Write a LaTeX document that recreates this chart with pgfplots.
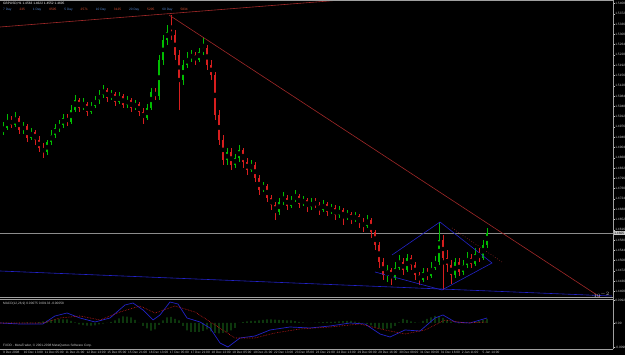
\documentclass[border=0pt]{standalone}
\usepackage{pgfplots}
\pgfplotsset{compat=1.18}
\usepackage{pgfplotstable}
\usepackage{fontspec}
\setmainfont{Liberation Sans}
\definecolor{up}{RGB}{0,190,0}
\definecolor{dn}{RGB}{215,30,30}
\definecolor{trend}{RGB}{160,40,40}
\definecolor{tblue}{RGB}{35,35,200}
\definecolor{lbl}{RGB}{200,200,200}
\definecolor{histg}{RGB}{20,85,20}
\definecolor{dayc}{RGB}{80,130,200}
\definecolor{numc}{RGB}{220,80,50}

% bullish candles (close >= open)
\pgfplotstableread{
x o h l c
0 1.4958 1.4993 1.4948 1.4972
1 1.4972 1.5021 1.4965 1.5000
3 1.4983 1.5028 1.4976 1.5007
5 1.4965 1.4993 1.4951 1.4979
7 1.4937 1.4972 1.4930 1.4958
11 1.4888 1.4930 1.4878 1.4923
12 1.4923 1.4965 1.4913 1.4948
13 1.4948 1.4986 1.4937 1.4972
14 1.4972 1.5000 1.4958 1.4983
15 1.4983 1.5021 1.4972 1.5007
17 1.4993 1.5053 1.4986 1.5035
18 1.5035 1.5088 1.5028 1.5070
20 1.5042 1.5077 1.5035 1.5056
22 1.5028 1.5063 1.5021 1.5049
23 1.5049 1.5084 1.5042 1.5070
24 1.5070 1.5105 1.5056 1.5088
25 1.5088 1.5123 1.5077 1.5105
27 1.5077 1.5105 1.5070 1.5091
29 1.5063 1.5098 1.5056 1.5084
31 1.5053 1.5084 1.5042 1.5070
33 1.5042 1.5070 1.5035 1.5056
36 1.5007 1.5056 1.5000 1.5042
37 1.5042 1.5112 1.5035 1.5098
39 1.5084 1.5228 1.5070 1.5210
40 1.5210 1.5298 1.5193 1.5280
41 1.5280 1.5333 1.5263 1.5308
45 1.5140 1.5210 1.5123 1.5193
46 1.5193 1.5238 1.5182 1.5217
47 1.5217 1.5245 1.5203 1.5228
49 1.5210 1.5252 1.5203 1.5238
50 1.5238 1.5291 1.5228 1.5252
56 1.4860 1.4902 1.4843 1.4888
58 1.4843 1.4881 1.4832 1.4867
59 1.4867 1.4913 1.4853 1.4895
62 1.4825 1.4860 1.4818 1.4843
65 1.4755 1.4783 1.4748 1.4769
69 1.4678 1.4727 1.4668 1.4713
70 1.4713 1.4748 1.4703 1.4727
72 1.4699 1.4734 1.4692 1.4720
73 1.4720 1.4755 1.4713 1.4734
75 1.4706 1.4734 1.4699 1.4720
77 1.4696 1.4727 1.4685 1.4713
80 1.4685 1.4720 1.4678 1.4706
82 1.4678 1.4706 1.4671 1.4692
84 1.4668 1.4699 1.4657 1.4685
86 1.4657 1.4685 1.4650 1.4671
88 1.4650 1.4678 1.4643 1.4664
91 1.4629 1.4668 1.4622 1.4650
96 1.4458 1.4493 1.4433 1.4475
98 1.4447 1.4503 1.4440 1.4482
99 1.4482 1.4528 1.4475 1.4503
101 1.4475 1.4531 1.4468 1.4517
105 1.4440 1.4482 1.4433 1.4468
107 1.4454 1.4503 1.4447 1.4482
108 1.4482 1.4524 1.4475 1.4503
109 1.4503 1.4643 1.4493 1.4580
113 1.4458 1.4517 1.4447 1.4503
115 1.4468 1.4510 1.4458 1.4493
116 1.4493 1.4538 1.4482 1.4517
118 1.4496 1.4552 1.4489 1.4531
120 1.4517 1.4580 1.4510 1.4563
121 1.4563 1.4622 1.4552 1.4605
}\upc

% bearish candles (close < open)
\pgfplotstableread{
x o h l c
2 1.5000 1.5014 1.4972 1.4983
4 1.5007 1.5014 1.4951 1.4965
6 1.4979 1.4986 1.4923 1.4937
8 1.4958 1.4965 1.4913 1.4930
9 1.4930 1.4944 1.4888 1.4902
10 1.4902 1.4920 1.4867 1.4888
16 1.5007 1.5021 1.4979 1.4993
19 1.5070 1.5077 1.5028 1.5042
21 1.5056 1.5063 1.5014 1.5028
26 1.5105 1.5112 1.5063 1.5077
28 1.5091 1.5098 1.5049 1.5063
30 1.5084 1.5091 1.5042 1.5053
32 1.5070 1.5077 1.5028 1.5042
34 1.5056 1.5063 1.5014 1.5028
35 1.5028 1.5042 1.4986 1.5007
38 1.5098 1.5112 1.5070 1.5084
42 1.5308 1.5368 1.5280 1.5298
43 1.5298 1.5315 1.5210 1.5228
44 1.5228 1.5245 1.5035 1.5140
48 1.5228 1.5238 1.5193 1.5210
51 1.5252 1.5263 1.5175 1.5193
52 1.5193 1.5210 1.5140 1.5158
53 1.5158 1.5168 1.5000 1.5018
54 1.5018 1.5035 1.4913 1.4930
55 1.4930 1.4948 1.4843 1.4860
57 1.4888 1.4902 1.4825 1.4843
60 1.4895 1.4902 1.4832 1.4853
61 1.4853 1.4867 1.4808 1.4825
63 1.4843 1.4853 1.4783 1.4797
64 1.4797 1.4808 1.4738 1.4755
66 1.4769 1.4776 1.4713 1.4727
67 1.4727 1.4738 1.4685 1.4703
68 1.4703 1.4713 1.4650 1.4678
71 1.4727 1.4738 1.4685 1.4699
74 1.4734 1.4741 1.4692 1.4706
76 1.4720 1.4727 1.4678 1.4696
78 1.4713 1.4727 1.4692 1.4703
79 1.4703 1.4713 1.4668 1.4685
81 1.4706 1.4713 1.4664 1.4678
83 1.4692 1.4703 1.4650 1.4668
85 1.4685 1.4692 1.4633 1.4657
87 1.4671 1.4678 1.4636 1.4650
89 1.4664 1.4671 1.4622 1.4643
90 1.4643 1.4657 1.4608 1.4629
92 1.4650 1.4657 1.4587 1.4608
93 1.4608 1.4615 1.4545 1.4563
94 1.4563 1.4573 1.4482 1.4503
95 1.4503 1.4517 1.4440 1.4458
97 1.4475 1.4482 1.4423 1.4447
100 1.4503 1.4517 1.4458 1.4475
102 1.4517 1.4528 1.4475 1.4493
103 1.4493 1.4503 1.4440 1.4458
104 1.4458 1.4468 1.4423 1.4440
106 1.4468 1.4482 1.4440 1.4454
110 1.4580 1.4598 1.4405 1.4517
111 1.4517 1.4545 1.4468 1.4493
112 1.4493 1.4510 1.4426 1.4458
114 1.4503 1.4517 1.4454 1.4468
117 1.4517 1.4531 1.4482 1.4496
119 1.4531 1.4552 1.4503 1.4517
}\dnc

% trend lines (bar index, price)
\pgfplotstableread{
x p
-0.75 1.53255
100 1.5437
}\ltop
\pgfplotstableread{
x p
41.5 1.53675
149.25 1.43805
}\ldesc
\pgfplotstableread{
x p
112.25 1.4622
124.75 1.4503
}\ldot
\pgfplotstableread{
x p
-0.75 1.44715
152.25 1.4384
}\lblue
\pgfplotstableread{
x p
97.25 1.45275
109.25 1.4643
122.25 1.44995
109.75 1.4405
93 1.4468
}\lwedge
\pgfplotstableread{
x p
-0.75 1.4605
152.5 1.4605
}\lbid

\pgfplotstableread{
x y
-0.75 0.0000
4.25 -0.0004
10 -0.0004
13 0.0028
16 0.0040
19.25 0.0020
23 0.0004
26.75 0.0020
30.5 0.0072
32.5 0.0080
35 0.0052
37.5 0.0012
39.25 0.0032
41.75 0.0084
43.75 0.0076
46 0.0020
49.25 0.0004
51.75 -0.0020
54.25 -0.0080
56.25 -0.0096
59.25 -0.0060
63 -0.0052
66.75 -0.0028
71.75 -0.0016
76.75 -0.0020
81.75 -0.0012
86.75 0.0000
90.5 -0.0004
94.25 -0.0044
96.75 -0.0056
100.5 -0.0028
104.25 -0.0032
108 0.0020
110 0.0032
113 0.0004
116.75 0.0000
121 0.0020
}\macdmain

\pgfplotstableread{
x y
-0.75 0.0000
10 0.0000
14.25 0.0020
19.25 0.0028
24.25 0.0012
29.25 0.0044
34.25 0.0068
38 0.0040
43 0.0068
48 0.0044
53 -0.0008
58 -0.0060
63 -0.0060
68 -0.0040
74.25 -0.0024
81.75 -0.0016
89.25 -0.0004
95.5 -0.0028
100.5 -0.0044
105.5 -0.0028
110.5 0.0012
115.5 0.0000
121 0.0004
}\macdsig

\pgfplotstableread{
x y
0 0.0000
1 0.0001
2 0.0000
3 -0.0001
4 0.0000
5 0.0001
6 0.0002
7 0.0001
8 0.0000
9 0.0003
10 0.0006
11 0.0009
12 0.0012
13 0.0014
14 0.0015
15 0.0014
16 0.0014
17 0.0008
18 0.0002
19 -0.0006
20 -0.0009
21 -0.0011
22 -0.0011
23 -0.0010
24 -0.0006
25 -0.0003
26 0.0000
27 0.0004
28 0.0010
29 0.0018
30 0.0026
31 0.0025
32 0.0022
33 0.0012
34 0.0000
35 -0.0012
36 -0.0022
37 -0.0031
38 -0.0026
39 -0.0008
40 0.0010
41 0.0022
42 0.0024
43 0.0016
44 0.0010
45 -0.0012
46 -0.0030
47 -0.0036
48 -0.0036
49 -0.0036
50 -0.0032
51 -0.0026
52 -0.0034
53 -0.0040
54 -0.0042
55 -0.0040
56 -0.0036
57 -0.0030
58 -0.0020
59 0.0000
60 0.0003
61 0.0006
62 0.0008
63 0.0008
64 0.0010
65 0.0012
66 0.0014
67 0.0014
68 0.0013
69 0.0012
70 0.0011
71 0.0010
72 0.0010
73 0.0007
74 0.0004
75 0.0002
76 0.0000
77 0.0000
78 0.0001
79 0.0002
80 0.0003
81 0.0004
82 0.0004
83 0.0005
84 0.0006
85 0.0007
86 0.0008
87 0.0008
88 0.0005
89 0.0002
90 0.0000
91 -0.0005
92 -0.0010
93 -0.0016
94 -0.0022
95 -0.0024
96 -0.0023
97 -0.0022
98 -0.0012
99 0.0002
100 0.0016
101 0.0012
102 0.0006
103 0.0002
104 0.0000
105 0.0008
106 0.0016
107 0.0022
108 0.0028
109 0.0026
110 0.0020
111 0.0012
112 0.0005
113 0.0000
114 -0.0002
115 -0.0001
116 0.0000
117 0.0000
118 0.0004
119 0.0008
120 0.0012
121 0.0016
}\macdhist

\newcommand{\tf}{\fontsize{3.2}{3.8}\selectfont}

\begin{document}
\begin{tikzpicture}[x=1pt,y=1pt]
\fill[black] (0pt,0pt) rectangle (625pt,355pt);

% ---------- price panel (y axis in pips above 1.43805) ----------
\begin{axis}[
  at={(0pt,58pt)}, anchor=south west, scale only axis,
  width=613pt, height=296pt,
  xmin=-0.75, xmax=152.5, ymin=0, ymax=1036,
  axis line style={draw=none},
  xtick=\empty,
  ytick={19.5,55.5,91.5,127.5,163.5,199.5,235.5,271.5,307.5,343.5,379.5,415.5,451.5,487.5,523.5,559.5,595.5,631.5,667.5,703.5,739.5,775.5,811.5,847.5,883.5,919.5,955.5,991.5,1027.5},
  yticklabels={1.4400,1.4436,1.4472,1.4508,1.4544,1.4580,1.4616,1.4652,1.4688,1.4724,1.4760,1.4796,1.4832,1.4868,1.4904,1.4940,1.4976,1.5012,1.5048,1.5084,1.5120,1.5156,1.5192,1.5228,1.5264,1.5300,1.5336,1.5372,1.5408},
  ytick pos=right, yticklabel pos=right,
  tick align=outside, major tick length=1.5pt,
  tick style={lbl, line width=0.4pt},
  yticklabel style={font=\tf, text=lbl, inner sep=0.6pt},
]
% current price line
\addplot[lbl!70!black, line width=0.5pt] table[x=x, y expr={10000*\thisrow{p}-14380.5}] {\lbid};
% wicks
\addplot[only marks, mark=none, error bars/.cd, y dir=both, y explicit, error mark=none,
  error bar style={draw=up, line width=0.45pt, solid}]
  table[x=x, y expr={5000*(\thisrow{h}+\thisrow{l})-14380.5},
        y error expr={5000*(\thisrow{h}-\thisrow{l})}] {\upc};
\addplot[only marks, mark=none, error bars/.cd, y dir=both, y explicit, error mark=none,
  error bar style={draw=dn, line width=0.45pt, solid}]
  table[x=x, y expr={5000*(\thisrow{h}+\thisrow{l})-14380.5},
        y error expr={5000*(\thisrow{h}-\thisrow{l})}] {\dnc};
% bodies
\addplot[only marks, mark=none, error bars/.cd, y dir=both, y explicit, error mark=none,
  error bar style={draw=up, line width=1.3pt, solid}]
  table[x=x, y expr={5000*(\thisrow{o}+\thisrow{c})-14380.5},
        y error expr={max(5000*abs(\thisrow{c}-\thisrow{o}),0.6)}] {\upc};
\addplot[only marks, mark=none, error bars/.cd, y dir=both, y explicit, error mark=none,
  error bar style={draw=dn, line width=1.3pt, solid}]
  table[x=x, y expr={5000*(\thisrow{o}+\thisrow{c})-14380.5},
        y error expr={max(5000*abs(\thisrow{c}-\thisrow{o}),0.6)}] {\dnc};
% trend lines
\addplot[trend, line width=0.6pt] table[x=x, y expr={10000*\thisrow{p}-14380.5}] {\ltop};
\addplot[trend, line width=0.6pt] table[x=x, y expr={10000*\thisrow{p}-14380.5}] {\ldesc};
\addplot[trend, line width=0.6pt, dotted] table[x=x, y expr={10000*\thisrow{p}-14380.5}] {\ldot};
\addplot[tblue, line width=0.6pt] table[x=x, y expr={10000*\thisrow{p}-14380.5}] {\lblue};
\addplot[tblue, line width=0.6pt] table[x=x, y expr={10000*\thisrow{p}-14380.5}] {\lwedge};
\end{axis}

% ---------- MACD panel ----------
\begin{axis}[
  at={(0pt,6pt)}, anchor=south west, scale only axis,
  width=613pt, height=50pt,
  xmin=-0.75, xmax=152.5, ymin=-0.0104, ymax=0.0096,
  axis line style={draw=none},
  xtick={-0.25,4.9625,10.175,15.3875,20.6,25.8125,31.025,36.2375,41.45,46.6625,51.875,57.0875,62.3,67.5125,72.725,77.9375,83.15,88.3625,93.575,98.7875,104.0,109.2125,114.425,119.6375},
  xticklabels={9 Dec 2008,10 Dec 13:00,11 Dec 05:00,11 Dec 21:00,12 Dec 13:00,15 Dec 05:00,15 Dec 21:00,16 Dec 13:00,17 Dec 05:00,17 Dec 21:00,18 Dec 13:00,19 Dec 05:00,19 Dec 21:00,22 Dec 13:00,23 Dec 05:00,23 Dec 21:00,24 Dec 13:00,29 Dec 00:00,29 Dec 16:00,30 Dec 08:00,31 Dec 00:00,31 Dec 16:00,2 Jan 11:00,5 Jan 14:00},
  xtick pos=bottom,
  xticklabel style={font=\tf, text=lbl, anchor=north west, inner sep=0.4pt, xshift=0.5pt},
  ytick={-0.0096,0,0.0092},
  yticklabels={-0.0096,0.00,0.0092},
  ytick pos=right, yticklabel pos=right,
  tick align=outside, major tick length=1.5pt,
  tick style={lbl, line width=0.4pt},
  yticklabel style={font=\tf, text=lbl, inner sep=0.6pt},
]
\addplot[ybar, bar width=1.4pt, fill=histg, draw=none] table[x=x, y=y] {\macdhist};
\addplot[tblue, line width=0.7pt, mark=none] table[x=x, y=y] {\macdmain};
\addplot[dn, line width=0.6pt, densely dotted, mark=none] table[x=x, y=y] {\macdsig};
\end{axis}

% frame lines
\draw[lbl!80!black, line width=0.5pt] (0pt,354.5pt) -- (613pt,354.5pt);
\draw[lbl!80!black, line width=0.5pt] (613pt,6pt) -- (613pt,354.5pt);
\draw[lbl!80!black, line width=0.5pt] (0pt,58pt) -- (613pt,58pt);
\draw[lbl!80!black, line width=0.5pt] (0pt,56pt) -- (613pt,56pt);
\draw[lbl!80!black, line width=0.5pt] (0pt,6pt) -- (613pt,6pt);

% current price tag
\node[fill=lbl, text=black, font=\tf, inner sep=0.6pt, anchor=west] at (613.5pt,122pt) {1.4605};

% texts
\node[anchor=north west, inner sep=0, font=\tf, text=white] at (3pt,352.5pt) {GBPUSD,H1 1.4563 1.4622 1.4552 1.4605};
\node[anchor=north west, inner sep=0, font=\tf] at (3pt,346.5pt) {%
 \textcolor{dayc}{7 Day}\hspace{8pt}\textcolor{numc}{235}\hspace{8pt}\textcolor{dayc}{1 Day}\hspace{8pt}\textcolor{numc}{0505}\hspace{8pt}\textcolor{dayc}{5 Day}\hspace{8pt}\textcolor{numc}{2571}\hspace{8pt}\textcolor{dayc}{10 Day}\hspace{8pt}\textcolor{numc}{3125}\hspace{8pt}\textcolor{dayc}{20 Day}\hspace{8pt}\textcolor{numc}{5205}\hspace{8pt}\textcolor{dayc}{60 Day}\hspace{8pt}\textcolor{numc}{5834}};
\node[anchor=north west, inner sep=0, font=\tf, text=lbl] at (3pt,53.5pt) {MACD(12,26,9) 0.00075 0.00133 -0.00058};
\node[anchor=south west, inner sep=0, font=\tf, text=lbl] at (3pt,8pt) {FXDD - MetaTrader, \textcopyright{} 2001-2008 MetaQuotes Software Corp.};

\pgfresetboundingbox
\useasboundingbox (0pt,0pt) rectangle (625pt,355pt);
\end{tikzpicture}
\end{document}
